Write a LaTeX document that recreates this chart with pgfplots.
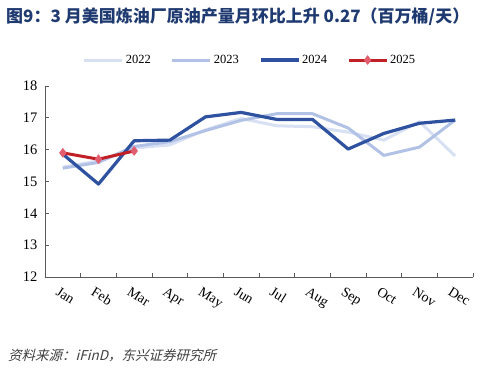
\documentclass[border=0pt]{standalone}
\usepackage{pgfplots}
\pgfplotsset{compat=1.18}
\usepackage{fontspec}
\setmainfont{Liberation Serif}
\newfontfamily\cjk{Noto Sans CJK SC}
\newfontfamily\cjksl[FakeSlant=0.25]{Noto Sans CJK SC}
\usetikzlibrary{plotmarks}
\definecolor{c22}{RGB}{216,225,243}
\definecolor{c23}{RGB}{178,194,230}
\definecolor{c24}{RGB}{47,82,160}
\definecolor{c25}{RGB}{192,32,38}
\definecolor{c25m}{RGB}{226,94,110}
\definecolor{titleblue}{RGB}{31,58,112}
\definecolor{axgray}{RGB}{90,90,90}
\begin{document}
\begin{tikzpicture}[x=1pt,y=1pt]
\path (0,0) rectangle (492,368);
\node[anchor=west,inner sep=0pt,text=titleblue,font=\cjk\bfseries\fontsize{17}{19}\selectfont] at (6,351) {图9：3 月美国炼油厂原油产量月环比上升 0.27（百万桶/天）};
\node[anchor=west,inner sep=0pt,text=black!75,font=\cjksl\fontsize{13.5}{15}\selectfont] at (8,13) {资料来源：iFinD，东兴证券研究所};
\begin{axis}[
  at={(45pt,91pt)}, anchor=south west,
  scale only axis, width=428pt, height=191pt,
  xmin=0.5, xmax=12.5, ymin=12, ymax=18,
  axis x line*=bottom, axis y line*=left,
  axis line style={axgray, line width=0.8pt},
  tick style={axgray, line width=0.8pt},
  tick align=inside,
  major tick length=4pt,
  xtick={0.5,1.5,...,12.5},
  x tick label as interval,
  xticklabels={Jan,Feb,Mar,Apr,May,Jun,Jul,Aug,Sep,Oct,Nov,Dec},
  x tick label style={rotate=-32, anchor=north west, font=\fontsize{14}{15}\selectfont, xshift=-1pt, yshift=-6pt},
  ytick={12,13,...,18},
  y tick label style={font=\fontsize{14.5}{15}\selectfont, /pgf/number format/assume math mode=true, xshift=-4pt},
  legend columns=4,
  legend style={draw=none, at={(0.479,1.136)}, anchor=center, font=\fontsize{12.5}{13}\selectfont, inner sep=0pt},
  legend cell align=left,
  /tikz/every even column/.append style={column sep=18pt},
  legend image code/.code={\draw[mark repeat=2,mark phase=2,#1] plot coordinates {(0pt,0pt) (19pt,0pt) (38pt,0pt)};},
]
\addplot[c22, line width=3pt, line join=round] coordinates {
(1,15.45) (2,15.65) (3,16.05) (4,16.15) (5,16.62) (6,16.98) (7,16.75) (8,16.72) (9,16.55) (10,16.3) (11,16.88) (12,15.8)};
\addlegendentry{2022}
\addplot[c23, line width=3pt, line join=round] coordinates {
(1,15.42) (2,15.6) (3,16.1) (4,16.25) (5,16.6) (6,16.92) (7,17.13) (8,17.13) (9,16.68) (10,15.82) (11,16.08) (12,16.93)};
\addlegendentry{2023}
\addplot[c24, line width=3.2pt, line join=round] coordinates {
(1,15.86) (2,14.92) (3,16.28) (4,16.3) (5,17.03) (6,17.17) (7,16.95) (8,16.95) (9,16.02) (10,16.51) (11,16.83) (12,16.93)};
\addlegendentry{2024}
\addplot[c25, line width=3pt, line join=round, mark=diamond*, mark size=4.5pt, mark options={fill=c25m, draw=c25m, line width=0.5pt}] coordinates {
(1,15.9) (2,15.7) (3,15.96)};
\addlegendentry{2025}
\end{axis}
\end{tikzpicture}
\end{document}
